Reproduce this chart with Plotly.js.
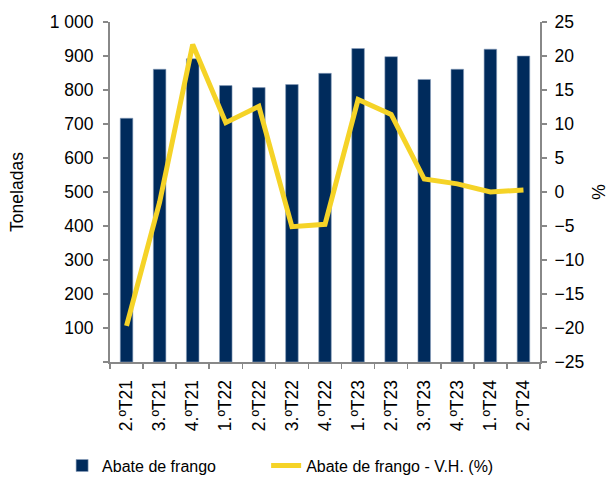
<!DOCTYPE html>
<html>
<head>
<meta charset="utf-8">
<script src="https://cdn.plot.ly/plotly-3.0.1.min.js"></script>
<style>html,body{margin:0;padding:0;background:#fff;}#chart{width:609px;height:479px;}</style>
</head>
<body>
<div id="chart"></div>
<script>
const categories = ["2.ºT21","3.ºT21","4.ºT21","1.ºT22","2.ºT22","3.ºT22","4.ºT22","1.ºT23","2.ºT23","3.ºT23","4.ºT23","1.ºT24","2.ºT24"];
const abate = [717, 861, 892, 813, 807, 816, 849, 922, 898, 831, 861, 920, 900];
const variacao = [-19.7, -1.5, 21.7, 10.2, 12.6, -5.1, -4.75, 13.6, 11.4, 1.9, 1.2, 0.0, 0.3];
const leftTicks = [0,100,200,300,400,500,600,700,800,900,1000];
const leftTickText = ["","100","200","300","400","500","600","700","800","900","1 000"];
const rightTicks = [-25,-20,-15,-10,-5,0,5,10,15,20,25];

const fam = "Liberation Sans, Arial, sans-serif";
const font = {family: fam, size: 17.5, color: "#000"};
const legFont = {family: fam, size: 16, color: "#000"};
const data = [
  {type: "bar", name: "Abate de frango", x: categories, y: abate,
   marker: {color: "#002B5C", line: {color: "#8aa0bc", width: 0.6}}, yaxis: "y", legend: "legend"},
  {type: "scatter", mode: "lines", name: "Abate de frango - V.H. (%)", x: categories, y: variacao,
   line: {color: "#F5D327", width: 5}, yaxis: "y2", legend: "legend2"}
];
const layout = {
  width: 609, height: 479,
  margin: {l: 110, r: 69, t: 22, b: 117},
  paper_bgcolor: "#fff", plot_bgcolor: "#fff",
  font: font,
  bargap: 0.62,
  showlegend: true,
  legend: {orientation: "h", xref: "container", x: 0.102, xanchor: "left", yref: "container", y: 0.028, yanchor: "middle",
           font: legFont},
  legend2: {orientation: "h", xref: "container", x: 0.437, xanchor: "left", yref: "container", y: 0.028, yanchor: "middle",
           font: legFont},
  xaxis: {type: "category", tickangle: -90, showline: true, linecolor: "#888", linewidth: 2,
          ticks: "outside", tickson: "boundaries", ticklen: 5, tickcolor: "#888", tickwidth: 1.5,
          ticklabelstandoff: 9,
          showgrid: false, zeroline: false, tickfont: font, automargin: false},
  yaxis: {range: [0, 1000], tickvals: leftTicks, ticktext: leftTickText, showline: true,
          linecolor: "#888", linewidth: 2, ticks: "outside", ticklen: 5, tickcolor: "#888", tickwidth: 1.5,
          ticklabelstandoff: 6,
          showgrid: false, zeroline: false, tickfont: font, automargin: false,
          title: {text: "Toneladas", font: font, standoff: 22}},
  yaxis2: {range: [-25, 25], tickvals: rightTicks, overlaying: "y", side: "right", showline: true,
           linecolor: "#888", linewidth: 2, ticks: "outside", ticklen: 5, tickcolor: "#888", tickwidth: 1.5,
           ticklabelstandoff: 4,
           showgrid: false, zeroline: false, tickfont: font, automargin: false,
           title: {text: "%", font: font, standoff: 10}}
};
Plotly.newPlot("chart", data, layout, {displayModeBar: false, staticPlot: true});
</script>
</body>
</html>
